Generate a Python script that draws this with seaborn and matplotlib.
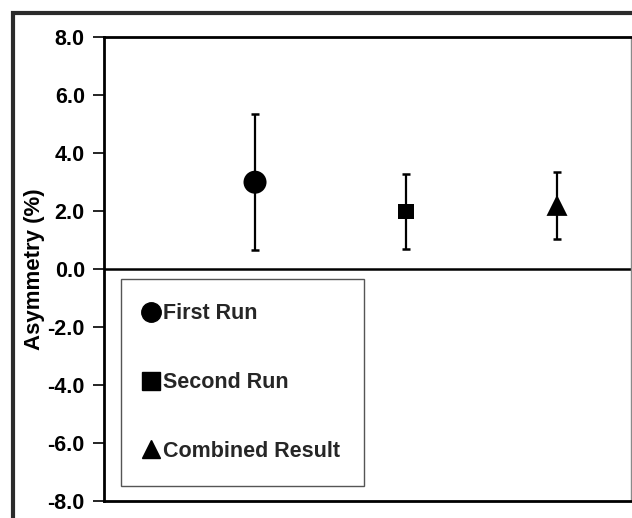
import matplotlib
matplotlib.use("Agg")
import matplotlib.pyplot as plt
from matplotlib.lines import Line2D
from matplotlib.patches import Rectangle
from matplotlib.ticker import FormatStrFormatter
import seaborn as sns
import pandas as pd

# Measured asymmetry for each run with its uncertainty
runs = ["First Run", "Second Run", "Combined Result"]
positions = [1, 2, 3]
asymmetry = [3.0, 2.0, 2.2]
uncertainty = [2.35, 1.3, 1.16]
y_ticks = [-8.0, -6.0, -4.0, -2.0, 0.0, 2.0, 4.0, 6.0, 8.0]

df = pd.DataFrame({"run": runs, "pos": positions,
                   "asym": asymmetry, "err": uncertainty})

sns.set_style("white")
plt.rcParams["font.family"] = ["Liberation Sans", "DejaVu Sans"]
plt.rcParams["font.weight"] = "bold"
plt.rcParams["axes.unicode_minus"] = False

fig = plt.figure(figsize=(6.32, 5.18), dpi=100)
ax = fig.add_axes([0.1646, 0.0328, 0.8338, 0.8952])

# Outer chart border
fig.patches.append(Rectangle((0.0206, -0.2), 1.5, 0.975 + 0.2,
                             transform=fig.transFigure, fill=False,
                             edgecolor="#2b2b2b", linewidth=3.0,
                             clip_on=False))

ax.axhline(0, color="black", linewidth=1.8, zorder=1)

ax.errorbar(df["pos"], df["asym"], yerr=df["err"], fmt="none",
            ecolor="black", elinewidth=1.6, capsize=2.6, capthick=1.8,
            zorder=2)

markers = {"First Run": "o", "Second Run": "s", "Combined Result": "^"}
sizes = {"First Run": 275, "Second Run": 117, "Combined Result": 228}
sns.scatterplot(data=df, x="pos", y="asym", style="run", markers=markers,
                size="run", sizes=sizes, color="black", linewidth=0,
                legend=False, ax=ax, zorder=3)

ax.set_xlim(0, 3.49)
ax.set_ylim(-8, 8)
ax.set_yticks(y_ticks)
ax.yaxis.set_major_formatter(FormatStrFormatter("%.1f"))
ax.set_xticks([])
ax.set_xlabel("")
ax.tick_params(axis="y", left=True, length=8, width=1.2, direction="out",
               pad=5.8, labelsize=15.5, colors="black")
for lab in ax.get_yticklabels():
    lab.set_fontweight("bold")

ax.set_ylabel("Asymmetry (%)", fontsize=16, fontweight="bold", color="black")
ax.yaxis.label.set_verticalalignment("center")
ax.yaxis.set_label_coords(-0.131, 0.5)

for side in ["left", "top", "bottom"]:
    ax.spines[side].set_color("black")
    ax.spines[side].set_linewidth(2.0)
ax.spines["right"].set_color("#8a8a8a")
ax.spines["right"].set_linewidth(1.0)

handles = [
    Line2D([], [], marker="o", linestyle="", color="black", markersize=14),
    Line2D([], [], marker="s", linestyle="", color="black", markersize=12.5),
    Line2D([], [], marker="^", linestyle="", color="black", markersize=13.5),
]
leg = ax.legend(handles, runs, loc="lower left",
                bbox_to_anchor=(0.032, 0.032, 0.461, 0.4), mode="expand",
                borderaxespad=0, frameon=True, fancybox=False, framealpha=1,
                edgecolor="#555555", borderpad=1.14, labelspacing=2.21,
                handlelength=0.52, handletextpad=0.3,
                prop={"size": 15.5, "weight": "bold"})
leg.get_frame().set_linewidth(1.0)

fig.savefig("out.png", dpi=100)
